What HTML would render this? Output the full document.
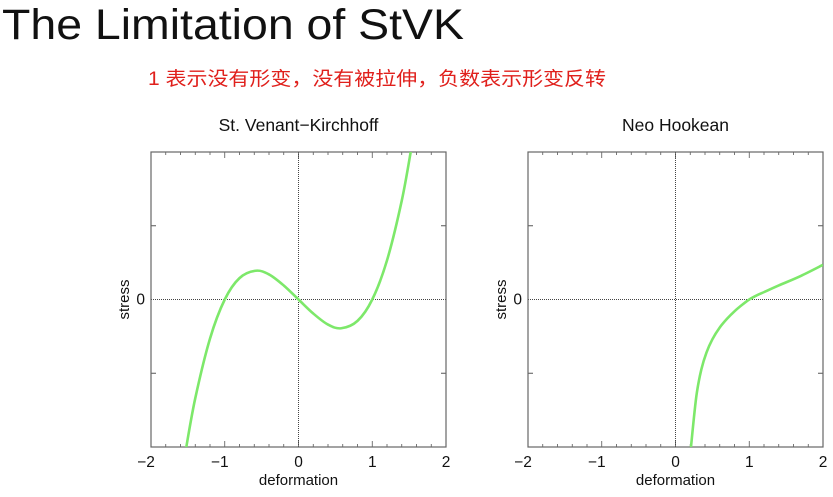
<!DOCTYPE html>
<html><head><meta charset="utf-8"><style>
body{margin:0;width:833px;height:492px;background:#fff;overflow:hidden;font-family:"Liberation Sans","Noto Sans CJK SC",sans-serif}
</style></head><body>
<svg width="833" height="492" xmlns="http://www.w3.org/2000/svg">
<text x="2" y="39" font-size="43" textLength="462" lengthAdjust="spacingAndGlyphs" fill="#111" font-family="Liberation Sans, sans-serif">The Limitation of StVK</text>
<text x="148" y="85" font-size="19" textLength="458" lengthAdjust="spacingAndGlyphs" fill="#e0201c" font-family="Liberation Sans, Noto Sans CJK SC, sans-serif">1 表示没有形变，没有被拉伸，负数表示形变反转</text>
<g id="c1"></g>
<g id="c2"></g>
</svg>
<script>
const xTicks=[-2,-1,0,1,2];
const stvkX=[-1.53,-1.4,-1.2,-1,-0.8,-0.58,-0.4,-0.2,0,0.2,0.4,0.58,0.8,1,1.2,1.4,1.53];
const stvkY=[-2.05,-1.34,-0.53,0,0.29,0.39,0.34,0.19,0,-0.19,-0.34,-0.39,-0.29,0,0.53,1.34,2.05];
const neoX=[0.21,0.25,0.29,0.35,0.42,0.5,0.6,0.7,0.8,0.9,1.0,1.1,1.2,1.4,1.7,2.0];
const neoY=[-2.0,-1.6,-1.26,-0.95,-0.72,-0.54,-0.38,-0.26,-0.16,-0.075,0,0.055,0.1,0.19,0.32,0.47];
const NS="http://www.w3.org/2000/svg";
function mk(p,t,a){const e=document.createElementNS(NS,t);for(const k in a)e.setAttribute(k,a[k]);p.appendChild(e);return e;}
function chart(g,L,R,T,B,title,xs,ys){
 const sx=v=>L+(v+2)/4*(R-L), sy=v=>(T+B)/2-v/4*(B-T);
 let t=mk(g,'text',{x:(L+R)/2,y:T-21,'font-size':17.5,'text-anchor':'middle',fill:'#111'});t.textContent=title;
 
 
 for(let i=0;i<=20;i++){const x=sx(-2+i*0.2);const l=i%5==0?6:3;
  mk(g,'line',{x1:x,y1:T,x2:x,y2:T+l,stroke:'#555','stroke-width':0.8});
  mk(g,'line',{x1:x,y1:B,x2:x,y2:B-l,stroke:'#555','stroke-width':0.8});}
 [-1,1].forEach(v=>{const y=sy(v);mk(g,'line',{x1:L,y1:y,x2:L+5,y2:y,stroke:'#555'});mk(g,'line',{x1:R,y1:y,x2:R-5,y2:y,stroke:'#555'});});
 mk(g,'line',{x1:sx(0),y1:T,x2:sx(0),y2:B,stroke:'#444','stroke-width':1,'stroke-dasharray':'1,1'});
 mk(g,'line',{x1:L,y1:sy(0),x2:R,y2:sy(0),stroke:'#444','stroke-width':1,'stroke-dasharray':'1,1'});
 const f=mk(g,'rect',{x:L,y:T,width:R-L,height:B-T,fill:'none',stroke:'#666','stroke-width':1.2});
 
 
 xTicks.forEach(v=>{const e=mk(g,'text',{x:sx(v)+(v<0?-5:0),y:B+20,'font-size':15.5,'text-anchor':'middle',fill:'#111'});e.textContent=v<0?'\u2212'+(-v):v;
  
  });
 let z=mk(g,'text',{x:L-6,y:sy(0)+5,'font-size':15.5,'text-anchor':'end',fill:'#111'});z.textContent='0';
 
 
 let xl=mk(g,'text',{x:(L+R)/2,y:B+38,'font-size':15,'text-anchor':'middle',fill:'#111'});xl.textContent='deformation';
 
 
 let yl=mk(g,'text',{x:0,y:0,'font-size':15,'text-anchor':'middle',fill:'#111',transform:`translate(${L-22},${sy(0)}) rotate(-90)`});yl.textContent='stress';
 
 
 const P=xs.map((x,i)=>[sx(x),sy(ys[i])]);
 let d='M'+P[0][0]+','+P[0][1];
 for(let i=0;i<P.length-1;i++){const p0=P[Math.max(0,i-1)],p1=P[i],p2=P[i+1],p3=P[Math.min(P.length-1,i+2)];
  d+=` C${p1[0]+(p2[0]-p0[0])/6},${p1[1]+(p2[1]-p0[1])/6} ${p2[0]-(p3[0]-p1[0])/6},${p2[1]-(p3[1]-p1[1])/6} ${p2[0]},${p2[1]}`;}
 const cp=mk(g,'clipPath',{id:g.id+'clip'});mk(cp,'rect',{x:L,y:T,width:R-L,height:B-T});
 const c=mk(g,'path',{d:d,fill:'none',stroke:'#7de86a','stroke-width':2.6,'clip-path':`url(#${g.id}clip)`});
 
 
}
chart(document.getElementById('c1'),151,446,152,447,'St. Venant\u2212Kirchhoff',stvkX,stvkY);
chart(document.getElementById('c2'),528,823,152,447,'Neo Hookean',neoX,neoY);
</script>
</body></html>
